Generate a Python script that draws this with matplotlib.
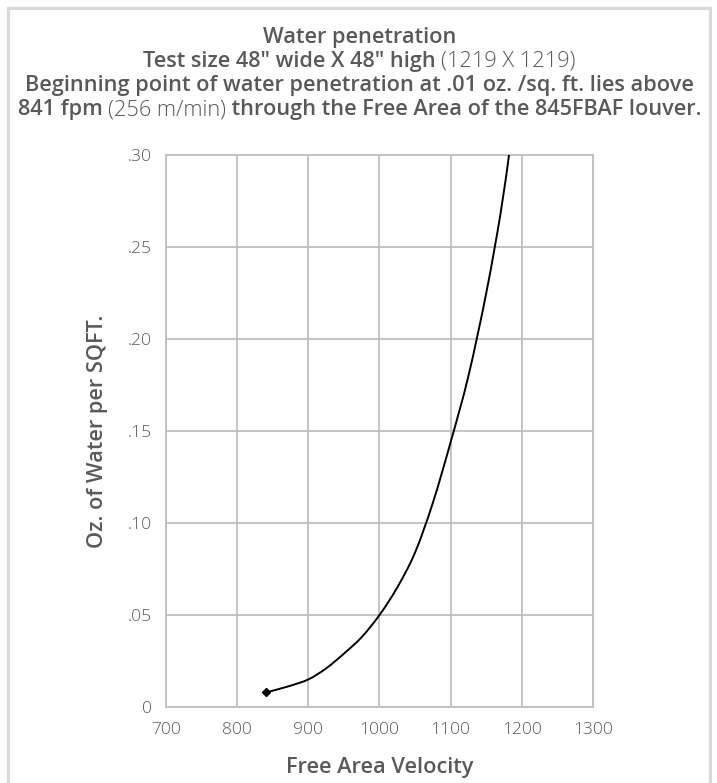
import matplotlib
matplotlib.use("Agg")
import matplotlib.pyplot as plt
from matplotlib.path import Path
from matplotlib.patches import PathPatch, Rectangle
import numpy as np

# ---- data ----
velocity = [841, 870, 900, 925, 950, 975, 1000, 1025, 1050, 1075, 1100, 1125, 1150, 1170, 1182]
water = [0.008, 0.011, 0.015, 0.021, 0.029, 0.038, 0.050, 0.065, 0.084, 0.111, 0.144, 0.180, 0.225, 0.268, 0.300]

x_ticks = [700, 800, 900, 1000, 1100, 1200, 1300]
x_tick_labels = ["700", "800", "900", "1000", "1100", "1200", "1300"]
y_ticks = [0, 0.05, 0.10, 0.15, 0.20, 0.25, 0.30]
y_tick_labels = ["0", ".05", ".10", ".15", ".20", ".25", ".30"]

title_lines = [
    [("Water penetration", "semibold")],
    [("Test size 48\u2033 wide X 48\u2033 high ", "semibold"), ("(1219 X 1219)", "light")],
    [("Beginning point of water penetration at .01 oz. /sq. ft. lies above", "semibold")],
    [("841 fpm ", "semibold"), ("(256 m/min)", "light"), (" through the Free Area of the 845FBAF louver.", "semibold")],
]
x_label = "Free Area Velocity"
y_label = "Oz. of Water per SQFT."

FONT = ["Open Sans", "DejaVu Sans"]
TXT = "#595959"
GRID = "#bfbfbf"

plt.rcParams["font.family"] = FONT

W, H = 717, 783
fig = plt.figure(figsize=(W / 100, H / 100), dpi=100)

# outer frame
fig.patches.append(Rectangle((8 / W, -0.05), (710 - 8) / W, 1.05 - 8 / H,
                             transform=fig.transFigure, fill=False,
                             edgecolor="#d9d9d9", linewidth=2.2))

ax = fig.add_axes([166 / W, 1 - 707 / H, (593 - 166) / W, (707 - 155) / H])
ax.set_xlim(700, 1300)
ax.set_ylim(0, 0.30)
ax.set_xticks(x_ticks)
ax.set_xticklabels(x_tick_labels)
ax.set_yticks(y_ticks)
ax.set_yticklabels(y_tick_labels)
ax.grid(True, color=GRID, linewidth=1.3)
ax.set_axisbelow(True)
for s in ax.spines.values():
    s.set_color(GRID)
    s.set_linewidth(1.3)
ax.tick_params(axis="x", length=0, pad=11, labelsize=12.5, labelcolor=TXT)
ax.tick_params(axis="y", length=0, pad=10, labelsize=12.5, labelcolor=TXT)
for lab in ax.get_xticklabels() + ax.get_yticklabels():
    lab.set_fontweight("light")

# smooth curve (Catmull-Rom -> cubic Bezier) through the read points
px = np.array(velocity, float)
py = np.array(water, float)
verts = [(px[0], py[0])]
codes = [Path.MOVETO]
n = len(px)
for i in range(n - 1):
    p0 = np.array([px[max(i - 1, 0)], py[max(i - 1, 0)]])
    p1 = np.array([px[i], py[i]])
    p2 = np.array([px[i + 1], py[i + 1]])
    p3 = np.array([px[min(i + 2, n - 1)], py[min(i + 2, n - 1)]])
    c1 = p1 + (p2 - p0) / 6.0
    c2 = p2 - (p3 - p1) / 6.0
    verts += [tuple(c1), tuple(c2), tuple(p2)]
    codes += [Path.CURVE4] * 3
ax.add_patch(PathPatch(Path(verts, codes), fill=False, edgecolor="black",
                       linewidth=1.4, clip_on=True, zorder=3))
ax.plot([velocity[0]], [water[0]], marker="D", markersize=4.5, color="black",
        zorder=4, linestyle="none")

fig.canvas.draw()
renderer = fig.canvas.get_renderer()

# title with mixed weights, scaled so the longest line spans the frame
def make_line(parts, yc, size):
    texts = [fig.text(0, 1 - yc / H, s, fontsize=size, color=TXT, fontweight=w,
                      va="center", ha="left") for s, w in parts]
    widths = [t.get_window_extent(renderer).width for t in texts]
    return texts, widths

base = 12.0
texts, widths = make_line(title_lines[3], 0, base)
size = base * 688.0 / sum(widths)
for t in texts:
    t.remove()

line_y = [37, 61, 86, 110]
for parts, yc in zip(title_lines, line_y):
    texts, widths = make_line(parts, yc, size)
    x0 = (W / 2 + 1) - sum(widths) / 2
    for t, wd in zip(texts, widths):
        t.set_x(x0 / W)
        x0 += wd

fig.text(380 / W, 1 - 768 / H, x_label, fontsize=size, color=TXT,
         fontweight="semibold", ha="center", va="center")
fig.text(97 / W, 1 - 431 / H, y_label, fontsize=size, color=TXT,
         fontweight="semibold", ha="center", va="center", rotation=90)

fig.savefig("out.png", dpi=100)
